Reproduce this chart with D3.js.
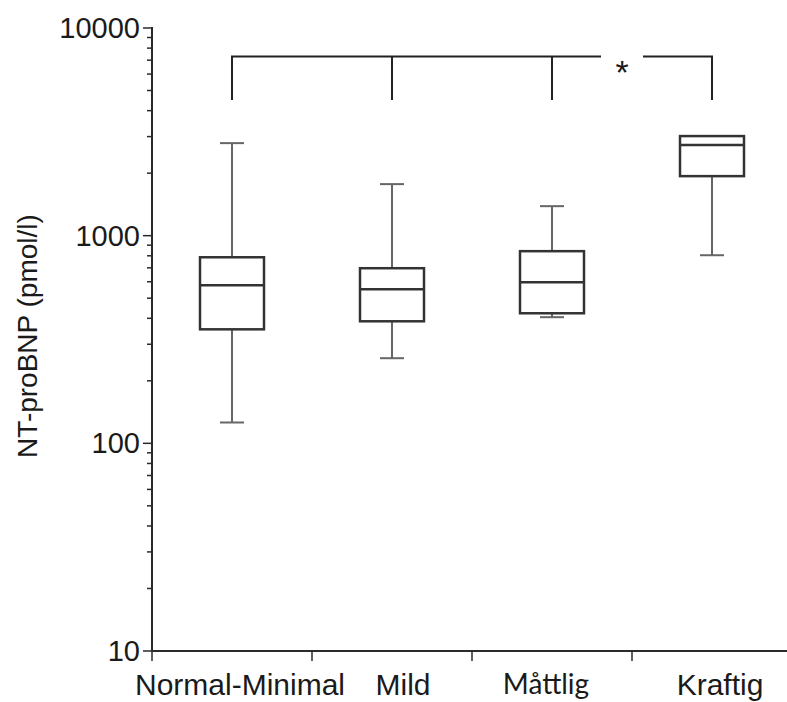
<!DOCTYPE html>
<html lang="en">
<head>
<meta charset="utf-8">
<title>NT-proBNP</title>
<script src="https://cdn.jsdelivr.net/npm/d3@7"></script>
<style>
  body { margin: 0; background: #fff; }
  svg { display: block; font-family: "Liberation Sans", Arial, sans-serif; }
</style>
</head>
<body>
<div id="chart"></div>
<script>
  // categories and box-plot values (pmol/l)
  const categories = ["Normal-Minimal", "Mild", "Måttlig", "Kraftig"];
  const whiskerLow  = [126, 257, 405, 805];
  const q1          = [354, 387, 423, 1935];
  const median      = [577, 552, 597, 2730];
  const q3          = [787, 697, 842, 3017];
  const whiskerHigh = [2790, 1771, 1387, 3017];

  const yTicks = [10, 100, 1000, 10000];
  const yMinor = [2, 3, 4, 5, 6, 7, 8, 9];

  // significance bracket: every group vs Kraftig
  const bracketTop = 7300, bracketBottom = 4500;

  const width = 787, height = 702;
  const plotLeft = 152, plotRight = 792, plotTop = 28, plotBottom = 651;

  const svg = d3.select("#chart").append("svg")
    .attr("width", width)
    .attr("height", height);

  const x = d3.scaleBand().domain(categories).range([plotLeft, plotRight]).padding(0);
  const y = d3.scaleLog().domain([10, 10000]).range([plotBottom, plotTop]);
  const cx = function(d) { return x(d) + x.bandwidth() / 2; };

  const axisColor = "#2a2a2a";
  const textColor = "#1a1a1a";

  // y axis: line, major + minor ticks
  svg.append("line")
    .attr("x1", plotLeft).attr("x2", plotLeft)
    .attr("y1", y(10000) - 1).attr("y2", plotBottom)
    .attr("stroke", axisColor).attr("stroke-width", 2);

  let minorVals = [];
  yTicks.slice(0, -1).forEach(function(t) {
    yMinor.forEach(function(m) { minorVals.push(t * m); });
  });

  svg.selectAll(".minor").data(minorVals).enter().append("line")
    .attr("x1", plotLeft - 5).attr("x2", plotLeft)
    .attr("y1", function(d) { return y(d); })
    .attr("y2", function(d) { return y(d); })
    .attr("stroke", axisColor).attr("stroke-width", 1.5);

  svg.selectAll(".major").data(yTicks).enter().append("line")
    .attr("x1", plotLeft - 9).attr("x2", plotLeft)
    .attr("y1", function(d) { return y(d); })
    .attr("y2", function(d) { return y(d); })
    .attr("stroke", axisColor).attr("stroke-width", 1.5);

  svg.selectAll(".ylabel").data(yTicks).enter().append("text")
    .attr("x", plotLeft - 12)
    .attr("y", function(d) { return y(d); })
    .attr("dy", "0.35em")
    .attr("text-anchor", "end")
    .attr("font-size", 29)
    .attr("fill", textColor)
    .text(function(d) { return d; });

  svg.append("text")
    .attr("transform", "translate(37,336) rotate(-90)")
    .attr("text-anchor", "middle")
    .attr("font-size", 28)
    .attr("fill", textColor)
    .text("NT-proBNP (pmol/l)");

  // x axis
  svg.append("line")
    .attr("x1", plotLeft).attr("x2", width)
    .attr("y1", plotBottom).attr("y2", plotBottom)
    .attr("stroke", axisColor).attr("stroke-width", 2);

  svg.selectAll(".xtick").data(categories).enter().append("line")
    .attr("x1", function(d) { return x(d); })
    .attr("x2", function(d) { return x(d); })
    .attr("y1", plotBottom).attr("y2", plotBottom + 10)
    .attr("stroke", axisColor).attr("stroke-width", 1.5);

  // label nudges to follow the original placement
  const labelDx = [8, 11, -6, 8];
  svg.selectAll(".xlabel").data(categories).enter().append("text")
    .attr("x", function(d, i) { return cx(d) + labelDx[i]; })
    .attr("y", function(d) { return d === "Måttlig" ? 694 : 695; })
    .attr("text-anchor", "middle")
    .attr("font-size", function(d) { return d === "Måttlig" ? 28 : 30; })
    .attr("font-family", function(d) {
      return d === "Måttlig" ? "Lato, 'Open Sans', sans-serif" : null;
    })
    .attr("fill", textColor)
    .text(function(d) { return d; });

  // boxes
  const boxHalf = 32, capHalf = 12;
  const g = svg.selectAll(".box").data(categories).enter().append("g");

  g.append("line")
    .attr("x1", cx).attr("x2", cx)
    .attr("y1", function(d, i) { return y(whiskerHigh[i]); })
    .attr("y2", function(d, i) { return y(whiskerLow[i]); })
    .attr("stroke", "#666").attr("stroke-width", 2);

  g.selectAll(".cap")
    .data(function(d, i) { return [{c: d, v: whiskerHigh[i]}, {c: d, v: whiskerLow[i]}]; })
    .enter().append("line")
    .attr("x1", function(d) { return cx(d.c) - capHalf; })
    .attr("x2", function(d) { return cx(d.c) + capHalf; })
    .attr("y1", function(d) { return y(d.v); })
    .attr("y2", function(d) { return y(d.v); })
    .attr("stroke", "#666").attr("stroke-width", 2);

  g.append("rect")
    .attr("x", function(d) { return cx(d) - boxHalf; })
    .attr("width", boxHalf * 2)
    .attr("y", function(d, i) { return y(q3[i]); })
    .attr("height", function(d, i) { return y(q1[i]) - y(q3[i]); })
    .attr("fill", "#fff")
    .attr("stroke", "#333").attr("stroke-width", 2.5);

  g.append("line")
    .attr("x1", function(d) { return cx(d) - boxHalf; })
    .attr("x2", function(d) { return cx(d) + boxHalf; })
    .attr("y1", function(d, i) { return y(median[i]); })
    .attr("y2", function(d, i) { return y(median[i]); })
    .attr("stroke", "#333").attr("stroke-width", 2.5);

  // significance bracket
  const starX = (cx(categories[2]) + cx(categories[3])) / 2 - 10;
  const gap = 21;
  const bracket = svg.append("g")
    .attr("stroke", "#222").attr("stroke-width", 2).attr("fill", "none");

  bracket.append("path")
    .attr("d", d3.line()([
      [cx(categories[0]), y(bracketBottom)],
      [cx(categories[0]), y(bracketTop)],
      [starX - gap, y(bracketTop)]
    ]));
  bracket.append("path")
    .attr("d", d3.line()([
      [starX + gap, y(bracketTop)],
      [cx(categories[3]), y(bracketTop)],
      [cx(categories[3]), y(bracketBottom)]
    ]));
  bracket.selectAll(".drop").data(categories.slice(1, 3)).enter().append("line")
    .attr("x1", cx).attr("x2", cx)
    .attr("y1", y(bracketTop)).attr("y2", y(bracketBottom));

  svg.append("text")
    .attr("x", starX)
    .attr("y", y(bracketTop) + 28)
    .attr("text-anchor", "middle")
    .attr("font-size", 34)
    .attr("fill", textColor)
    .text("*");
</script>
</body>
</html>
